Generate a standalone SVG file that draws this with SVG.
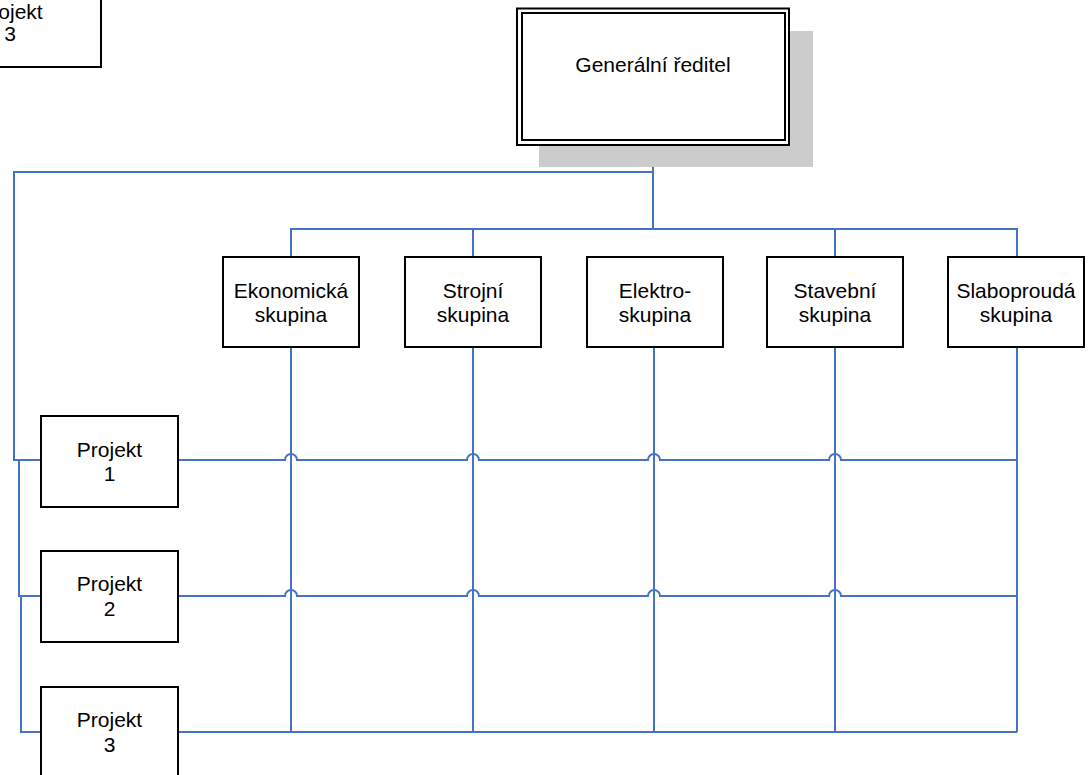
<svg xmlns="http://www.w3.org/2000/svg" width="1089" height="775" viewBox="0 0 1089 775">
  <style>
    .box { fill: #ffffff; stroke: #000000; stroke-width: 2; }
    .lbl { font-family: "Liberation Sans", Arial, sans-serif; font-size: 21px; fill: #000000; text-anchor: middle; }
    .wire { fill: none; stroke: #4472c4; stroke-width: 2; stroke-linejoin: miter; }
  </style>
  <rect width="1089" height="775" fill="#ffffff"/>

  <!-- connectors -->
  <g id="connectors" class="wire">
    <!-- director to groups -->
    <path d="M653 145 V229"/>
    <path d="M291 257 V229 H1017 V257"/>
    <path d="M473 229 V257"/>
    <path d="M835 229 V257"/>
    <!-- director to project line -->
    <path d="M653 172 H14 V460 H41"/>
    <path d="M41 460 H19 V596 H41"/>
    <path d="M41 596 H21 V732 H41"/>
    <!-- group columns -->
    <path d="M291 347 V732"/>
    <path d="M473 347 V732"/>
    <path d="M654 347 V732"/>
    <path d="M835 347 V732"/>
    <path d="M1017 347 V732"/>
    <!-- project rows, hopping over the columns -->
    <path d="M178 460 H285 A6 6 0 0 1 297 460 H467 A6 6 0 0 1 479 460 H648 A6 6 0 0 1 660 460 H829 A6 6 0 0 1 841 460 H1017"/>
    <path d="M178 596 H285 A6 6 0 0 1 297 596 H467 A6 6 0 0 1 479 596 H648 A6 6 0 0 1 660 596 H829 A6 6 0 0 1 841 596 H1017"/>
    <path d="M178 732 H1017"/>
  </g>

  <!-- partial project box at the corner -->
  <g id="projekt3-corner">
    <rect class="box" x="-81" y="-20" width="182" height="87"/>
    <text class="lbl" x="10" y="19">Projekt</text>
    <text class="lbl" x="10" y="41">3</text>
  </g>

  <!-- general director -->
  <g id="generalni-reditel">
    <rect x="539" y="31" width="274" height="136" fill="#cccccc"/>
    <rect x="517" y="8.5" width="272" height="136.5" fill="#ffffff" stroke="#000000" stroke-width="2"/>
    <rect x="522" y="13" width="263" height="127" fill="none" stroke="#000000" stroke-width="2"/>
    <text class="lbl" x="653" y="72">Generální ředitel</text>
  </g>

  <!-- groups -->
  <g id="ekonomicka">
    <rect class="box" x="223" y="257" width="136" height="90"/>
    <text class="lbl" x="291" y="298">Ekonomická</text>
    <text class="lbl" x="291" y="322">skupina</text>
  </g>
  <g id="strojni">
    <rect class="box" x="405" y="257" width="136" height="90"/>
    <text class="lbl" x="473" y="298">Strojní</text>
    <text class="lbl" x="473" y="322">skupina</text>
  </g>
  <g id="elektro">
    <rect class="box" x="587" y="257" width="136" height="90"/>
    <text class="lbl" x="655" y="298">Elektro-</text>
    <text class="lbl" x="655" y="322">skupina</text>
  </g>
  <g id="stavebni">
    <rect class="box" x="767" y="257" width="136" height="90"/>
    <text class="lbl" x="835" y="298">Stavební</text>
    <text class="lbl" x="835" y="322">skupina</text>
  </g>
  <g id="slaboprouda">
    <rect class="box" x="948" y="257" width="136" height="90"/>
    <text class="lbl" x="1016" y="298">Slaboproudá</text>
    <text class="lbl" x="1016" y="322">skupina</text>
  </g>

  <!-- projects -->
  <g id="projekt1">
    <rect class="box" x="41" y="416" width="137" height="91"/>
    <text class="lbl" x="109.5" y="457">Projekt</text>
    <text class="lbl" x="109.5" y="481">1</text>
  </g>
  <g id="projekt2">
    <rect class="box" x="41" y="551" width="137" height="91"/>
    <text class="lbl" x="109.5" y="591">Projekt</text>
    <text class="lbl" x="109.5" y="616">2</text>
  </g>
  <g id="projekt3">
    <rect class="box" x="41" y="687" width="137" height="91"/>
    <text class="lbl" x="109.5" y="727">Projekt</text>
    <text class="lbl" x="109.5" y="752">3</text>
  </g>
</svg>
